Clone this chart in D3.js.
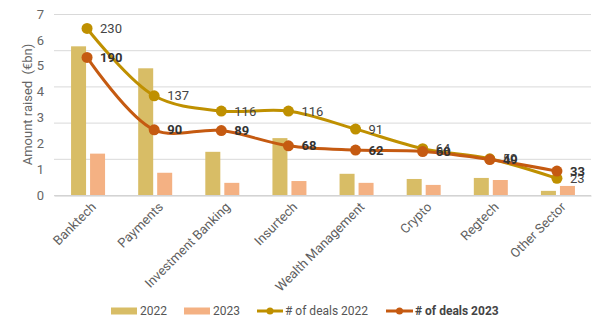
<!DOCTYPE html>
<html>
<head>
<meta charset="utf-8">
<script src="https://cdn.jsdelivr.net/npm/d3@7"></script>
<style>
  body { margin: 0; background: #fff; }
  text { font-family: Roboto, "Noto Sans", sans-serif; }
</style>
</head>
<body>
<div class="chart"></div>
<script>
const sectors = ["Banktech", "Payments", "Investment Banking", "Insurtech", "Wealth Management", "Crypto", "Regtech", "Other Sector"];
const raised2022 = [5.75, 4.9, 1.67, 2.2, 0.82, 0.62, 0.66, 0.16];
const raised2023 = [1.6, 0.86, 0.47, 0.54, 0.47, 0.39, 0.58, 0.35];
const deals2022 = [230, 137, 116, 116, 91, 64, 50, 23];
const deals2023 = [190, 90, 89, 68, 62, 60, 49, 33];
const leftTicks = [0, 1, 2, 3, 4, 5, 6, 7];
const rightTicks = [0, 50, 100, 150, 200, 250];

const width = 605, height = 331;
const margin = { top: 14, right: 14, bottom: 136, left: 54 };

const col_bar22 = "#d8bd66";
const col_bar23 = "#f4b183";
const col_line22 = "#bf9000";
const col_line23 = "#c55a11";

const svg = d3.select(".chart")
    .append("svg")
    .attr("width", width)
    .attr("height", height);

const x = d3.scaleBand()
    .domain(sectors)
    .range([margin.left, width - margin.right]);

const xInner = d3.scaleBand()
    .domain(["2022", "2023"])
    .range([-16.5, 17.5])
    .paddingInner(0.21);

const yLeft = d3.scaleLinear().domain([0, 7]).range([height - margin.bottom, margin.top]);
const yRight = d3.scaleLinear().domain([0, 250]).range([height - margin.bottom, margin.top]);

// gridlines come from the (hidden) deals axis
svg.append("g")
    .selectAll("line")
    .data(rightTicks)
    .enter()
    .append("line")
    .attr("x1", margin.left)
    .attr("x2", width - margin.right)
    .attr("y1", d => yRight(d) + 0.5)
    .attr("y2", d => yRight(d) + 0.5)
    .attr("stroke", "#d9d9d9")
    .attr("stroke-width", 1);

// left axis labels
const yAxis = svg.append("g")
    .attr("transform", "translate(" + margin.left + ",0)")
    .call(d3.axisLeft(yLeft).tickValues(leftTicks).tickFormat(d3.format("d")).tickSize(0).tickPadding(10));
yAxis.select(".domain").remove();
yAxis.selectAll("text")
    .attr("fill", "#666")
    .style("font-size", "13px");

svg.append("text")
    .attr("transform", "translate(27," + ((margin.top + height - margin.bottom) / 2) + ") rotate(-90)")
    .attr("text-anchor", "middle")
    .attr("dy", "0.35em")
    .attr("fill", "#666")
    .style("font-size", "13px")
    .style("white-space", "pre")
    .text("Amount raised  (€bn)");

// bars
const groups = svg.append("g")
    .selectAll("g")
    .data(sectors)
    .enter()
    .append("g")
    .attr("transform", d => "translate(" + (x(d) + x.bandwidth() / 2) + ",0)");

groups.append("rect")
    .attr("x", xInner("2022"))
    .attr("width", xInner.bandwidth())
    .attr("y", (d, i) => yLeft(raised2022[i]))
    .attr("height", (d, i) => yLeft(0) - yLeft(raised2022[i]))
    .attr("fill", col_bar22);

groups.append("rect")
    .attr("x", xInner("2023"))
    .attr("width", xInner.bandwidth())
    .attr("y", (d, i) => yLeft(raised2023[i]))
    .attr("height", (d, i) => yLeft(0) - yLeft(raised2023[i]))
    .attr("fill", col_bar23);

// x axis
const xAxis = svg.append("g")
    .attr("transform", "translate(0," + (yLeft(0) + 0.5) + ")")
    .call(d3.axisBottom(x).tickSize(0).tickPadding(0));
xAxis.select(".domain").attr("stroke", "#cccccc");
xAxis.selectAll("text")
    .attr("fill", "#5f5f5f")
    .style("font-size", "13px")
    .attr("text-anchor", "end")
    .attr("dy", "0.35em")
    .attr("transform", "translate(6,9) rotate(-45)");

// deal lines
function cx(i) { return x(sectors[i]) + x.bandwidth() / 2 - 0.5; }

const dealLine = d3.line()
    .x((d, i) => cx(i))
    .y(d => yRight(d))
    .curve(d3.curveCatmullRom);

function drawSeries(values, color) {
    svg.append("path")
        .datum(values)
        .attr("d", dealLine)
        .attr("fill", "none")
        .attr("stroke", color)
        .attr("stroke-width", 3);

    svg.append("g")
        .selectAll("circle")
        .data(values)
        .enter()
        .append("circle")
        .attr("cx", (d, i) => cx(i))
        .attr("cy", d => yRight(d))
        .attr("r", 5.5)
        .attr("fill", color);
}

drawSeries(deals2022, col_line22);
drawSeries(deals2023, col_line23);

function drawLabels(values, bold) {
    svg.append("g")
        .selectAll("text")
        .data(values)
        .enter()
        .append("text")
        .attr("x", (d, i) => cx(i) + 13)
        .attr("y", d => yRight(d))
        .attr("dy", "0.35em")
        .attr("fill", bold ? "#333" : "#444")
        .style("font-size", "13px")
        .style("font-weight", bold ? "bold" : "normal")
        .text(d => d);
}

drawLabels(deals2022, false);
drawLabels(deals2023, true);

// legend
const legendY = 311;
const legend = svg.append("g").style("font-size", "12px");

legend.append("rect").attr("x", 111).attr("y", legendY - 3.5).attr("width", 26).attr("height", 7).attr("fill", col_bar22);
legend.append("text").attr("x", 140).attr("y", legendY).attr("dy", "0.35em").attr("fill", "#555").text("2022");

legend.append("rect").attr("x", 184).attr("y", legendY - 3.5).attr("width", 26).attr("height", 7).attr("fill", col_bar23);
legend.append("text").attr("x", 213).attr("y", legendY).attr("dy", "0.35em").attr("fill", "#555").text("2023");

legend.append("line").attr("x1", 257).attr("x2", 283).attr("y1", legendY).attr("y2", legendY).attr("stroke", col_line22).attr("stroke-width", 3);
legend.append("circle").attr("cx", 270).attr("cy", legendY).attr("r", 3.5).attr("fill", col_line22);
legend.append("text").attr("x", 285).attr("y", legendY).attr("dy", "0.35em").attr("fill", "#555").text("# of deals 2022");

legend.append("line").attr("x1", 386).attr("x2", 413).attr("y1", legendY).attr("y2", legendY).attr("stroke", col_line23).attr("stroke-width", 3);
legend.append("circle").attr("cx", 399.5).attr("cy", legendY).attr("r", 3.5).attr("fill", col_line23);
legend.append("text").attr("x", 415).attr("y", legendY).attr("dy", "0.35em").attr("fill", "#444").style("font-weight", "bold").text("# of deals 2023");
</script>
</body>
</html>
